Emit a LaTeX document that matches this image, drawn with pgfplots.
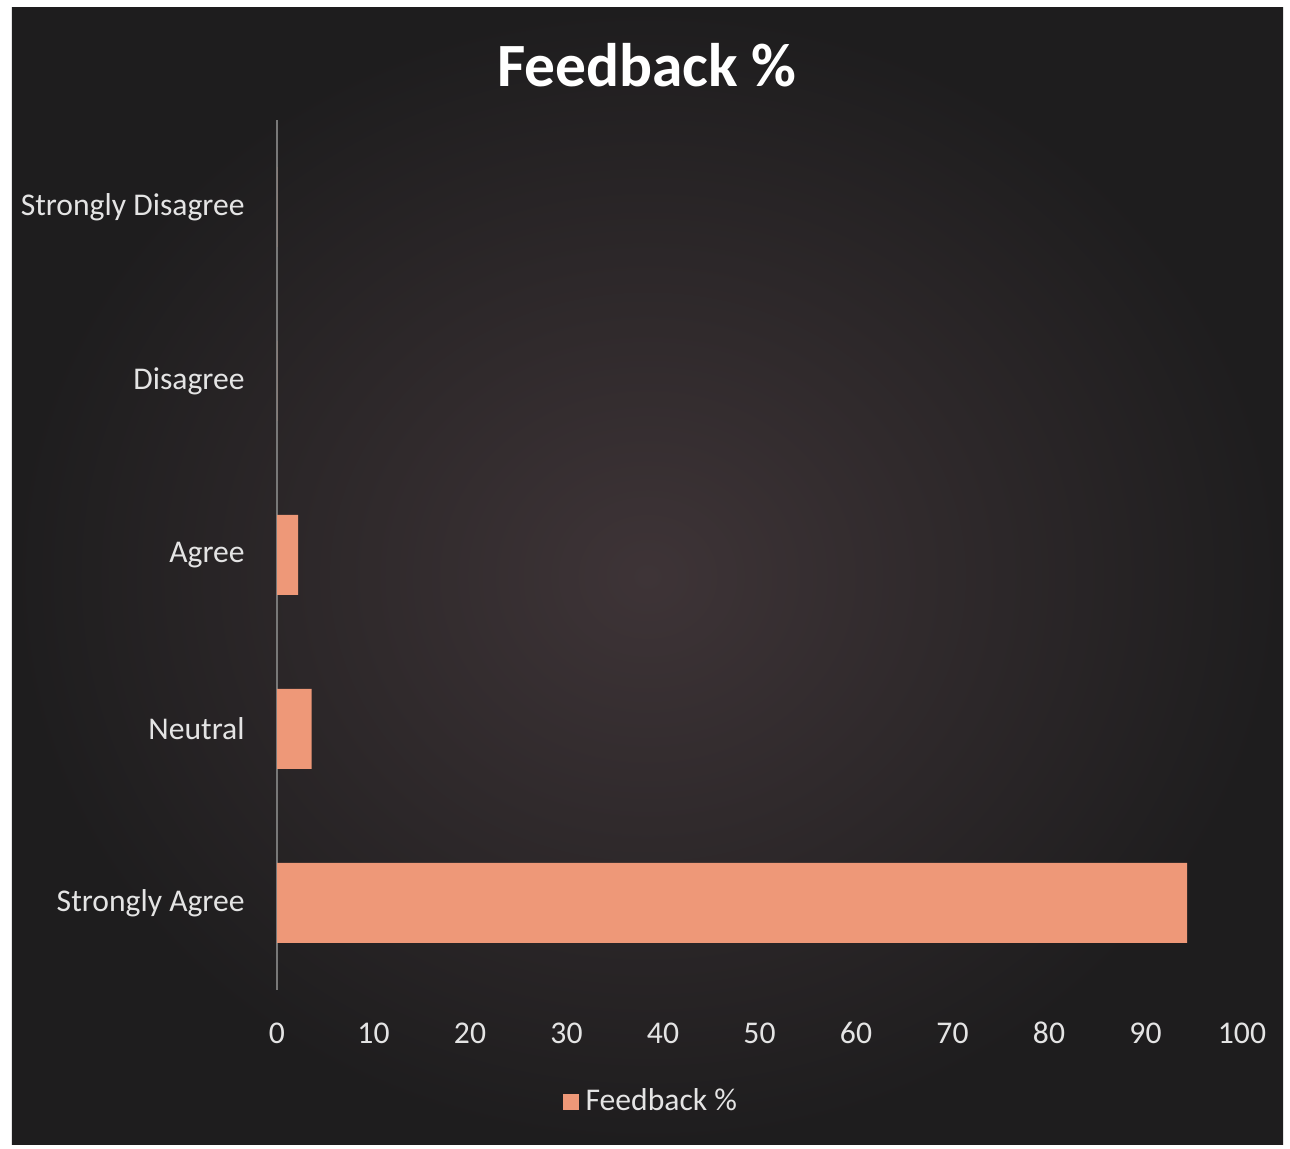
\documentclass[border=0pt]{standalone}
\usepackage{pgfplots}
\pgfplotsset{compat=1.18}
\usepackage{fontspec}
\setmainfont{Carlito}
\definecolor{barfill}{RGB}{238,152,120}
\definecolor{bginner}{RGB}{62,52,55}
\definecolor{bgouter}{RGB}{30,29,30}
\definecolor{labeltext}{RGB}{228,228,228}
\definecolor{axisgray}{RGB}{120,120,120}
\begin{document}
\begin{tikzpicture}
% page and dark chart area
\fill[white] (0,0) rectangle (12.9cm,11.49cm);
\shade[inner color=bginner, outer color=bgouter] (0.12cm,0.04cm) rectangle (12.83cm,11.41cm);
\begin{axis}[
    at={(2.77cm,1.59cm)}, anchor=south west,
    scale only axis,
    width=9.65cm, height=8.7cm,
    xbar, bar width=0.8cm,
    xmin=0, xmax=100,
    ymin=-0.5, ymax=4.5,
    xtick={0,10,...,100},
    ytick={0,1,2,3,4},
    yticklabels={Strongly Agree,Neutral,Agree,Disagree,Strongly Disagree},
    axis x line*=bottom,
    axis y line*=left,
    x axis line style={draw=none},
    y axis line style={draw=axisgray, line width=0.6pt},
    major tick length=0pt,
    tick label style={font=\fontsize{9}{10}\selectfont, text=labeltext},
    /pgf/number format/assume math mode=true,
    xticklabel style={yshift=-0.14cm, text height=1.6ex, text depth=0.2ex},
    yticklabel style={xshift=-0.2cm},
    legend style={at={(0.39,-0.129)}, anchor=center, draw=none, fill=none,
        font=\fontsize{9}{10}\selectfont, text=labeltext},
    legend image code/.code={\fill[barfill] (0cm,-0.08cm) rectangle (0.16cm,0.08cm);},
]
\addplot[fill=barfill, draw=none] coordinates {
    (94.3,0)
    (3.6,1)
    (2.2,2)
    (0,3)
    (0,4)
};
\addlegendentry{Feedback \%}
\end{axis}
\node[text=white, font=\bfseries\fontsize{17.5}{20}\selectfont] at (6.47cm,10.84cm) {Feedback \%};
\end{tikzpicture}
\end{document}
